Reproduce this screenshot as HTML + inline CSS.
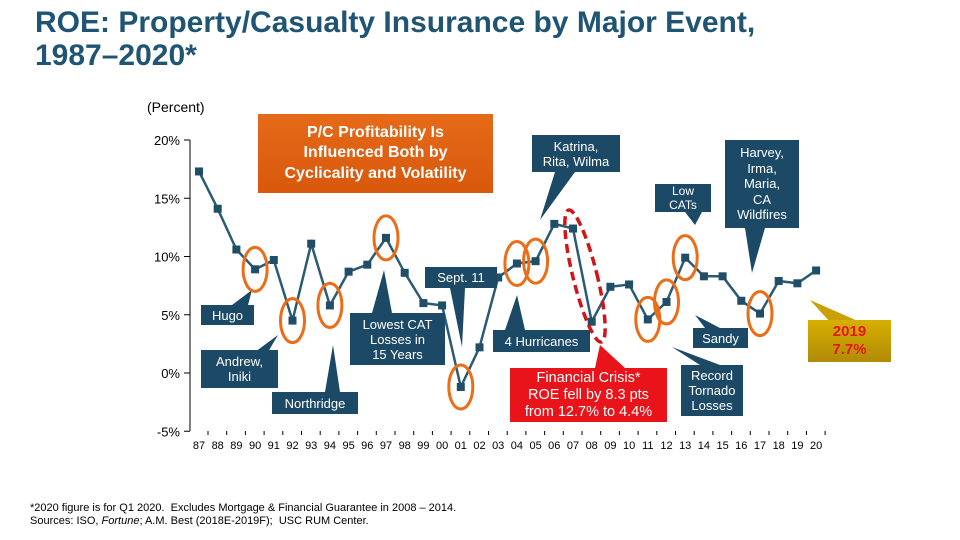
<!DOCTYPE html>
<html><head><meta charset="utf-8">
<style>
body{margin:0;width:960px;height:540px;background:#fff;overflow:hidden;font-family:"Liberation Sans",sans-serif;position:relative}
.t{position:absolute;left:35px;top:6px;font-size:30px;font-weight:bold;color:#1f5472;line-height:33px;white-space:nowrap}
.box{position:absolute;background:#1c4a66;color:#fff;font-size:13px;text-align:center;line-height:15px;display:flex;align-items:center;justify-content:center}
.fn{position:absolute;left:30px;top:502px;font-size:11px;line-height:13px;color:#000}
</style></head><body>
<div class="t">ROE: Property/Casualty Insurance by Major Event,<br>1987–2020*</div>
<div style="position:absolute;left:147px;top:99px;font-size:14px">(Percent)</div>
<svg id="chart" width="960" height="540" style="position:absolute;left:0;top:0"></svg>
<div class="box" style="left:258px;top:114px;width:235px;height:79px;background:linear-gradient(#e56a1a,#d9580c);font-size:16px;font-weight:bold;line-height:20.5px">P/C Profitability Is<br>Influenced Both by<br>Cyclicality and Volatility</div>
<div class="box" style="left:201px;top:305px;width:53px;height:20px">Hugo</div>
<div class="box" style="left:201px;top:350px;width:77px;height:38px">Andrew,<br>Iniki</div>
<div class="box" style="left:272px;top:392px;width:86px;height:22px">Northridge</div>
<div class="box" style="left:350px;top:313px;width:95px;height:52px">Lowest CAT<br>Losses in<br>15 Years</div>
<div class="box" style="left:425px;top:267px;width:72px;height:21px">Sept. 11</div>
<div class="box" style="left:493px;top:330px;width:97px;height:22px">4 Hurricanes</div>
<div class="box" style="left:532px;top:135px;width:88px;height:37px">Katrina,<br>Rita, Wilma</div>
<div class="box" style="left:655px;top:184px;width:56px;height:28px;font-size:12px;line-height:14px">Low<br>CATs</div>
<div class="box" style="left:725px;top:140px;width:74px;height:88px;line-height:15.5px">Harvey,<br>Irma,<br>Maria,<br>CA<br>Wildfires</div>
<div class="box" style="left:510px;top:368px;width:157px;height:54px;background:#e8141a;font-size:14.5px;line-height:17px">Financial Crisis*<br>ROE fell by 8.3 pts<br>from 12.7% to 4.4%</div>
<div class="box" style="left:693px;top:328px;width:55px;height:20px">Sandy</div>
<div class="box" style="left:681px;top:365px;width:62px;height:51px">Record<br>Tornado<br>Losses</div>
<div class="box" style="left:808px;top:320px;width:83px;height:42px;background:linear-gradient(#d6b000,#b18a08);color:#e8141a;font-weight:bold;font-size:15px;line-height:18px">2019<br>7.7%</div>
<div class="fn">*2020 figure is for Q1 2020.&nbsp; Excludes Mortgage &amp; Financial Guarantee in 2008 – 2014.<br>Sources: ISO, <i>Fortune</i>; A.M. Best (2018E-2019F);&nbsp; USC RUM Center.</div>
<script>
const years=["87","88","89","90","91","92","93","94","95","96","97","98","99","00","01","02","03","04","05","06","07","08","09","10","11","12","13","14","15","16","17","18","19","20"];
const roe=[17.3,14.1,10.6,8.9,9.7,4.5,11.1,5.8,8.7,9.3,11.6,8.6,6.0,5.8,-1.2,2.2,8.2,9.4,9.6,12.8,12.4,4.4,7.4,7.6,4.6,6.1,9.9,8.3,8.3,6.2,5.1,7.9,7.7,8.8];
const yTicks=[20,15,10,5,0,-5];
const NS="http://www.w3.org/2000/svg";
const svg=document.getElementById('chart');
const x=i=>199+i*18.7;
const y=v=>373-v*11.65;
function mk(t,a){const e=document.createElementNS(NS,t);for(const k in a)e.setAttribute(k,a[k]);svg.appendChild(e);return e;}
let ax=mk('line',{x1:190,y1:140,x2:190,y2:431,stroke:'#000'});


yTicks.forEach(v=>{
 const tk=mk('line',{x1:184,y1:y(v),x2:190,y2:y(v),stroke:'#000'});
 
 
 const t=mk('text',{x:180,y:y(v)+5,'text-anchor':'end','font-size':13,fill:'#000'});
 t.textContent=v+'%';
 
 
});
years.forEach((yr,i)=>{
 const tk=mk('line',{x1:x(i)+9,y1:431,x2:x(i)+9,y2:435,stroke:'#000'});
 
 
 const t=mk('text',{x:x(i),y:449,'text-anchor':'middle','font-size':11,fill:'#000'});
 t.textContent=yr;
 
 
});
const ptrs=[[[232,305],[248,305],[252,290]],[[255,352],[268,352],[278,335]],[[325,392],[340,392],[333,345]],[[372,313],[392,313],[384,270]],[[450,288],[465,288],[462,347]],[[505,330],[525,330],[517,295]],[[555,172],[575,172],[540,220]],[[685,212],[702,212],[695,225]],[[745,228],[765,228],[752,273]],[[595,368],[625,368],[600,345]],[[705,328],[720,328],[695,315]],[[700,365],[720,365],[672,347]],[[830,322],[860,322],[810,300]]];
ptrs.forEach(p=>{const e=mk('polygon',{points:p.map(q=>q.join(',')).join(' '),fill:'#1c4a66'});
 
 });
svg.lastChild.setAttribute('fill','#c9a000');
svg.children[svg.children.length-4].setAttribute('fill','#e8141a');
const line=mk('polyline',{points:roe.map((v,i)=>x(i)+','+y(v)).join(' '),fill:'none',stroke:'#2a5b73','stroke-width':2.5});


roe.forEach((v,i)=>{const r=mk('rect',{x:x(i)-4,y:y(v)-4,width:8,height:8,fill:'#1f4e66'});
 
 });
const circ=[[3,12,22],[5,12,22],[7,12,22],[10,12,22],[14,12,22],[17,12,22],[18,12,22],[24,12,22],[25,12,22],[26,12,22],[30,12,22]];
circ.forEach(c=>{const e=mk('ellipse',{cx:x(c[0]),cy:y(roe[c[0]]),rx:c[1],ry:c[2],fill:'none',stroke:'#ec6d17','stroke-width':3});
 
 });
const d=mk('ellipse',{cx:585,cy:276,rx:12,ry:68,fill:'none',stroke:'#d0141a','stroke-width':3.5,'stroke-dasharray':'9,5',transform:'rotate(-14 585 276)'});


</script>
</body></html>
